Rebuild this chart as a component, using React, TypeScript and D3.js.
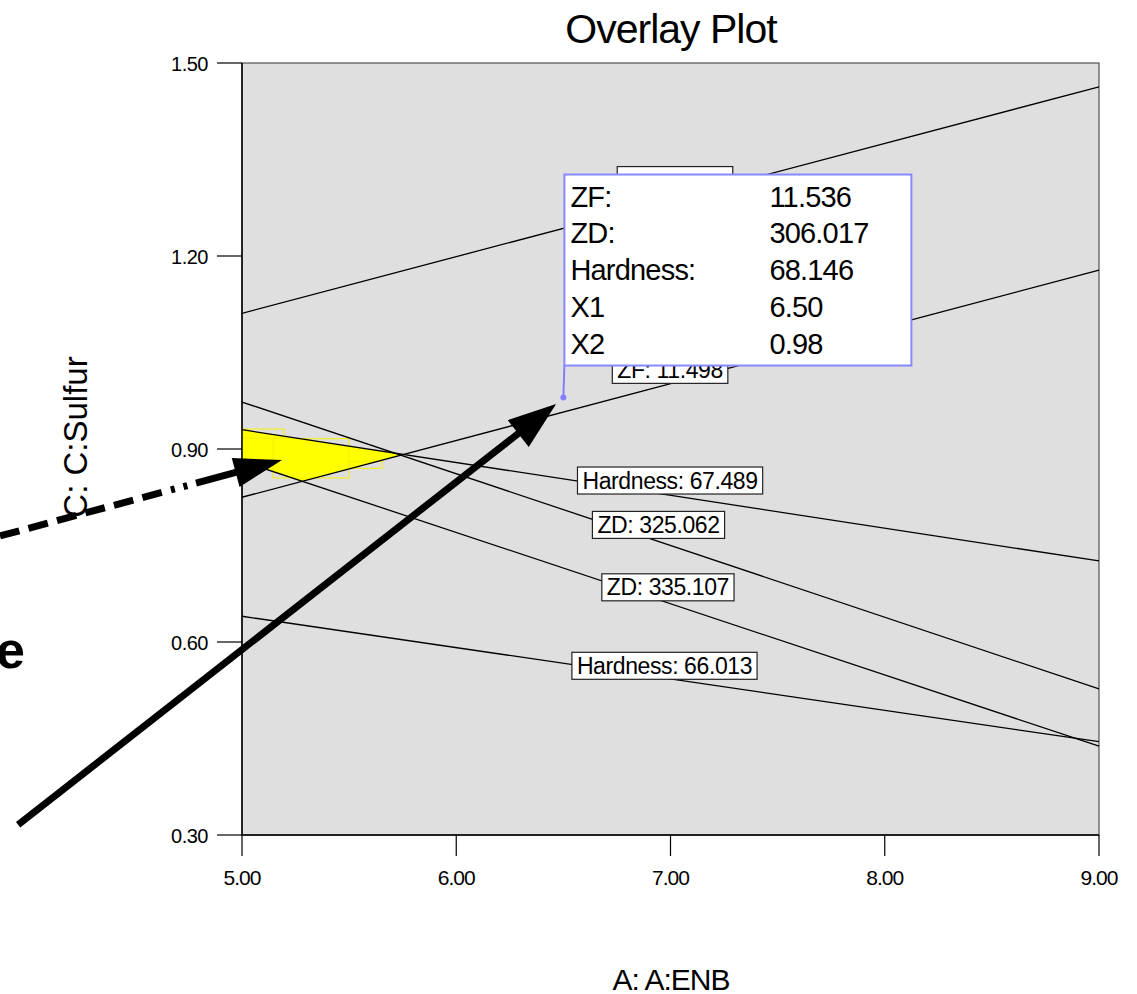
import React, { useEffect, useRef } from 'react';
import * as d3 from 'd3';

const W = 1137;
const H = 994;
const FONT = '"Liberation Sans", Arial, Helvetica, sans-serif';

const xDomain = [5, 9];
const yDomain = [0.3, 1.5];
const xTicks = [5, 6, 7, 8, 9];
const yTicks = [0.3, 0.6, 0.9, 1.2, 1.5];
const xTickLabels = ['5.00', '6.00', '7.00', '8.00', '9.00'];
const yTickLabels = ['0.30', '0.60', '0.90', '1.20', '1.50'];

// contour lines: value of C:Sulfur at A = 5 and A = 9
const contourX = [5, 9];
const zfUpper = [1.111, 1.463];
const zfLower = [0.825, 1.178];
const hardness67489 = [0.93, 0.726];
const zd325062 = [0.973, 0.527];
const zd335107 = [0.881, 0.438];
const hardness66013 = [0.64, 0.445];
const contours = [zfUpper, zfLower, hardness67489, zd325062, zd335107, hardness66013];

// contour labels (box centres in data units)
const labelTexts = ['', 'ZF: 11.498', 'Hardness: 67.489', 'ZD: 325.062', 'ZD: 335.107', 'Hardness: 66.013'];
const labelX = [7.021, 6.998, 6.998, 6.944, 6.988, 6.972];
const labelY = [1.318, 1.023, 0.851, 0.782, 0.685, 0.563];

// faint yellow ghost boxes
const ghostX0 = [5.0, 5.145, 5.499];
const ghostX1 = [5.196, 5.499, 5.653];
const ghostY0 = [0.931, 0.916, 0.881];
const ghostY1 = [0.917, 0.855, 0.87];

// flag tooltip
const tipNames = ['ZF:', 'ZD:', 'Hardness:', 'X1', 'X2'];
const tipValues = ['11.536', '306.017', '68.146', '6.50', '0.98'];
const tipPoint = [6.5, 0.98];

// annotation arrows (data units)
const solidArrowFrom = [3.955, 0.316];
const solidArrowTo = [6.466, 0.97];
const dashArrowFrom = [3.8705, 0.7648];
const dashArrowTo = [5.1867, 0.8829];

const lineAt = (c: number[], x: number) =>
  c[0] + ((c[1] - c[0]) * (x - contourX[0])) / (contourX[1] - contourX[0]);
const intersect = (a: number[], b: number[]) => {
  const sa = (a[1] - a[0]) / (contourX[1] - contourX[0]);
  const sb = (b[1] - b[0]) / (contourX[1] - contourX[0]);
  const dx = (b[0] - a[0]) / (sa - sb);
  return contourX[0] + dx;
};

export default function App() {
  const ref = useRef<SVGSVGElement | null>(null);

  useEffect(() => {
    const svg = d3.select(ref.current);
    svg.selectAll('*').remove();

    const x = d3.scaleLinear().domain(xDomain).range([242, 1099]);
    const y = d3.scaleLinear().domain(yDomain).range([835, 63]);

    // plot background
    svg.append('rect')
      .attr('x', x(xDomain[0])).attr('y', y(yDomain[1]))
      .attr('width', x(xDomain[1]) - x(xDomain[0]))
      .attr('height', y(yDomain[0]) - y(yDomain[1]))
      .attr('fill', '#dfdfdf').attr('stroke', '#333').attr('stroke-width', 1);

    // yellow feasible region
    const xa = intersect(hardness67489, zfLower);
    const xb = intersect(zfLower, zd335107);
    const poly: [number, number][] = [
      [5, lineAt(hardness67489, 5)],
      [xa, lineAt(hardness67489, xa)],
      [xb, lineAt(zfLower, xb)],
      [5, lineAt(zd335107, 5)],
    ];
    svg.append('path')
      .attr('d', d3.line<[number, number]>().x(d => x(d[0])).y(d => y(d[1]))(poly) + 'Z')
      .attr('fill', '#ffff00').attr('stroke', 'none');

    ghostX0.forEach((gx, i) => {
      svg.append('rect')
        .attr('x', x(gx)).attr('y', y(ghostY0[i]))
        .attr('width', x(ghostX1[i]) - x(gx))
        .attr('height', y(ghostY1[i]) - y(ghostY0[i]))
        .attr('fill', 'none').attr('stroke', '#f2f200').attr('stroke-width', 1);
    });

    // contour lines
    const line = d3.line<number>().x((_, i) => x(contourX[i])).y(d => y(d));
    contours.forEach(c => {
      svg.append('path').attr('d', line(c)).attr('fill', 'none')
        .attr('stroke', '#000').attr('stroke-width', 1.3);
    });

    // axes
    svg.append('line').attr('x1', x(5)).attr('x2', x(5)).attr('y1', y(1.5)).attr('y2', y(0.3))
      .attr('stroke', '#000').attr('stroke-width', 1.5);
    svg.append('line').attr('x1', x(5)).attr('x2', x(9)).attr('y1', y(0.3)).attr('y2', y(0.3))
      .attr('stroke', '#222').attr('stroke-width', 2);
    yTicks.forEach((t, i) => {
      svg.append('line').attr('x1', x(5) - 25).attr('x2', x(5)).attr('y1', y(t)).attr('y2', y(t))
        .attr('stroke', '#000').attr('stroke-width', 1.2);
      svg.append('text').attr('x', x(5) - 34).attr('y', y(t) + 7.5)
        .attr('text-anchor', 'end').attr('font-family', FONT).attr('font-size', 20)
        .attr('letter-spacing', -0.5).text(yTickLabels[i]);
    });
    xTicks.forEach((t, i) => {
      svg.append('line').attr('x1', x(t)).attr('x2', x(t)).attr('y1', y(0.3)).attr('y2', y(0.3) + 21)
        .attr('stroke', '#000').attr('stroke-width', 1.2);
      svg.append('text').attr('x', x(t)).attr('y', 885)
        .attr('text-anchor', 'middle').attr('font-family', FONT).attr('font-size', 21)
        .attr('letter-spacing', -1).text(xTickLabels[i]);
    });

    // title & axis titles
    svg.append('text').attr('x', 671).attr('y', 43).attr('text-anchor', 'middle')
      .attr('font-family', FONT).attr('font-size', 41).attr('letter-spacing', -1).text('Overlay Plot');
    svg.append('text').attr('x', 671).attr('y', 990).attr('text-anchor', 'middle')
      .attr('font-family', FONT).attr('font-size', 30).attr('letter-spacing', -1).text('A: A:ENB');
    svg.append('text').attr('transform', 'translate(87,437) rotate(-90)').attr('text-anchor', 'middle')
      .attr('font-family', FONT).attr('font-size', 33).text('C: C:Sulfur');

    // contour labels
    let refWidth = 0;
    const labelGroups = labelTexts.map((txt, i) => {
      const g = svg.append('g');
      const r = g.append('rect');
      const t = g.append('text').attr('font-family', FONT).attr('font-size', 23)
        .attr('letter-spacing', -0.4).attr('text-anchor', 'middle')
        .attr('x', x(labelX[i])).attr('y', y(labelY[i]) + 8).text(txt);
      const w = txt ? (t.node() as SVGTextElement).getComputedTextLength() + 10 : 0;
      if (txt === 'ZF: 11.498') refWidth = w;
      return { r, w, i };
    });
    labelGroups.forEach(({ r, w, i }) => {
      const ww = w || refWidth;
      r.attr('x', x(labelX[i]) - ww / 2).attr('y', y(labelY[i]) - 13.5)
        .attr('width', ww).attr('height', 27)
        .attr('fill', '#fff').attr('stroke', '#222').attr('stroke-width', 1.2);
    });

    // tooltip flag
    const px = x(tipPoint[0]);
    const py = y(tipPoint[1]);
    const boxLeft = px + 1;
    const boxBottom = py - 32;
    const boxTop = boxBottom - 191;
    svg.append('line').attr('x1', boxLeft).attr('x2', px).attr('y1', boxBottom).attr('y2', py)
      .attr('stroke', '#8080ff').attr('stroke-width', 2);
    svg.append('circle').attr('cx', px).attr('cy', py).attr('r', 3).attr('fill', '#8080ff');
    svg.append('rect').attr('x', boxLeft).attr('y', boxTop).attr('width', 347).attr('height', 191)
      .attr('fill', '#fff').attr('stroke', '#8888ff').attr('stroke-width', 2);
    tipNames.forEach((n, i) => {
      const by = boxTop + 32 + i * 36.8;
      svg.append('text').attr('x', boxLeft + 6).attr('y', by).attr('font-family', FONT)
        .attr('font-size', 29).attr('letter-spacing', -0.8).text(n);
      svg.append('text').attr('x', boxLeft + 205).attr('y', by).attr('font-family', FONT)
        .attr('font-size', 29).attr('letter-spacing', -0.8).text(tipValues[i]);
    });

    // arrows
    const drawArrow = (from: number[], to: number[], dash: string | null, headLen: number, headHalf: number) => {
      const x0 = x(from[0]), y0 = y(from[1]), x1 = x(to[0]), y1 = y(to[1]);
      const L = Math.hypot(x1 - x0, y1 - y0);
      const ux = (x1 - x0) / L, uy = (y1 - y0) / L;
      const bx = x1 - ux * headLen, by = y1 - uy * headLen;
      const s = svg.append('line').attr('x1', x0).attr('y1', y0).attr('x2', bx + ux * 2).attr('y2', by + uy * 2)
        .attr('stroke', '#000').attr('stroke-width', 7);
      if (dash) s.attr('stroke-dasharray', dash);
      svg.append('path')
        .attr('d', `M${x1},${y1}L${bx - uy * headHalf},${by + ux * headHalf}L${bx + uy * headHalf},${by - ux * headHalf}Z`)
        .attr('fill', '#000');
    };
    drawArrow(solidArrowFrom, solidArrowTo, null, 48, 17);
    drawArrow(dashArrowFrom, dashArrowTo,
      '20,9.5,20,9.5,20,9.5,20,9.5,20,9.5,20,9.5,4,9,4,9,60', 48, 15);

    // clipped bold word fragment at left
    svg.append('text').attr('x', 25).attr('y', 668).attr('text-anchor', 'end')
      .attr('font-family', FONT).attr('font-weight', 'bold').attr('font-size', 52).text('e');
  }, []);

  return (
    <svg ref={ref} width={W} height={H}
      style={{ position: 'absolute', left: 0, top: 0, display: 'block', background: '#fff' }} />
  );
}
